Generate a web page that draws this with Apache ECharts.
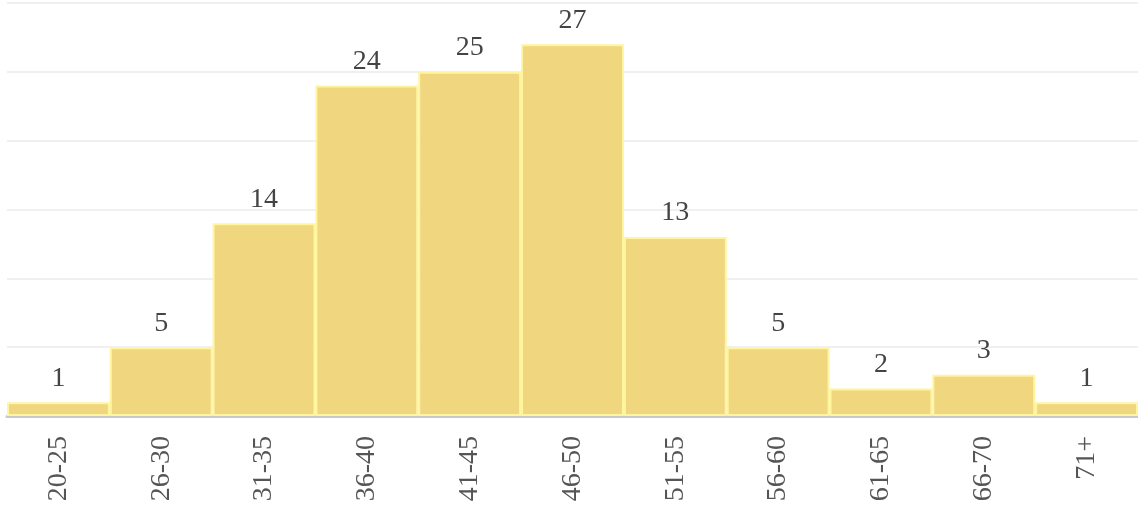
<!DOCTYPE html>
<html>
<head>
<meta charset="utf-8">
<script src="https://cdn.jsdelivr.net/npm/echarts@6/dist/echarts.min.js"></script>
<style>
  html, body { margin: 0; padding: 0; background: #fff; }
  #chart { width: 1138px; height: 516px; }
</style>
</head>
<body>
<div id="chart"></div>
<script>
// 年龄段 + 人数
const ageGroups = ['20-25', '26-30', '31-35', '36-40', '41-45', '46-50', '51-55', '56-60', '61-65', '66-70', '71+']
const counts = [1, 5, 14, 24, 25, 27, 13, 5, 2, 3, 1]

const myChart = echarts.init(document.querySelector('#chart'))
const option = {
  animation: false,
  grid: {
    left: 7,
    right: 0,
    top: 3,
    bottom: 100
  },
  xAxis: {
    type: 'category',
    data: ageGroups,
    axisLine: {
      lineStyle: { color: '#c8c8c8', width: 3 }
    },
    axisTick: { show: false },
    axisLabel: {
      rotate: 90,
      margin: 20,
      color: '#555',
      fontFamily: 'Liberation Serif',
      fontSize: 28
    }
  },
  yAxis: {
    type: 'value',
    min: 0,
    max: 30,
    interval: 5,
    axisLabel: { show: false },
    axisLine: { show: false },
    axisTick: { show: false },
    splitLine: {
      lineStyle: { color: '#f0f0f0', width: 2 }
    }
  },
  series: [
    {
      type: 'bar',
      data: counts,
      barCategoryGap: '0%',
      itemStyle: {
        color: '#efd67f',
        borderColor: '#fff59e',
        borderWidth: 2
      },
      label: {
        show: true,
        position: 'top',
        distance: 10,
        color: '#444',
        fontFamily: 'Liberation Serif',
        fontSize: 28
      }
    }
  ]
}
myChart.setOption(option)
</script>
</body>
</html>
